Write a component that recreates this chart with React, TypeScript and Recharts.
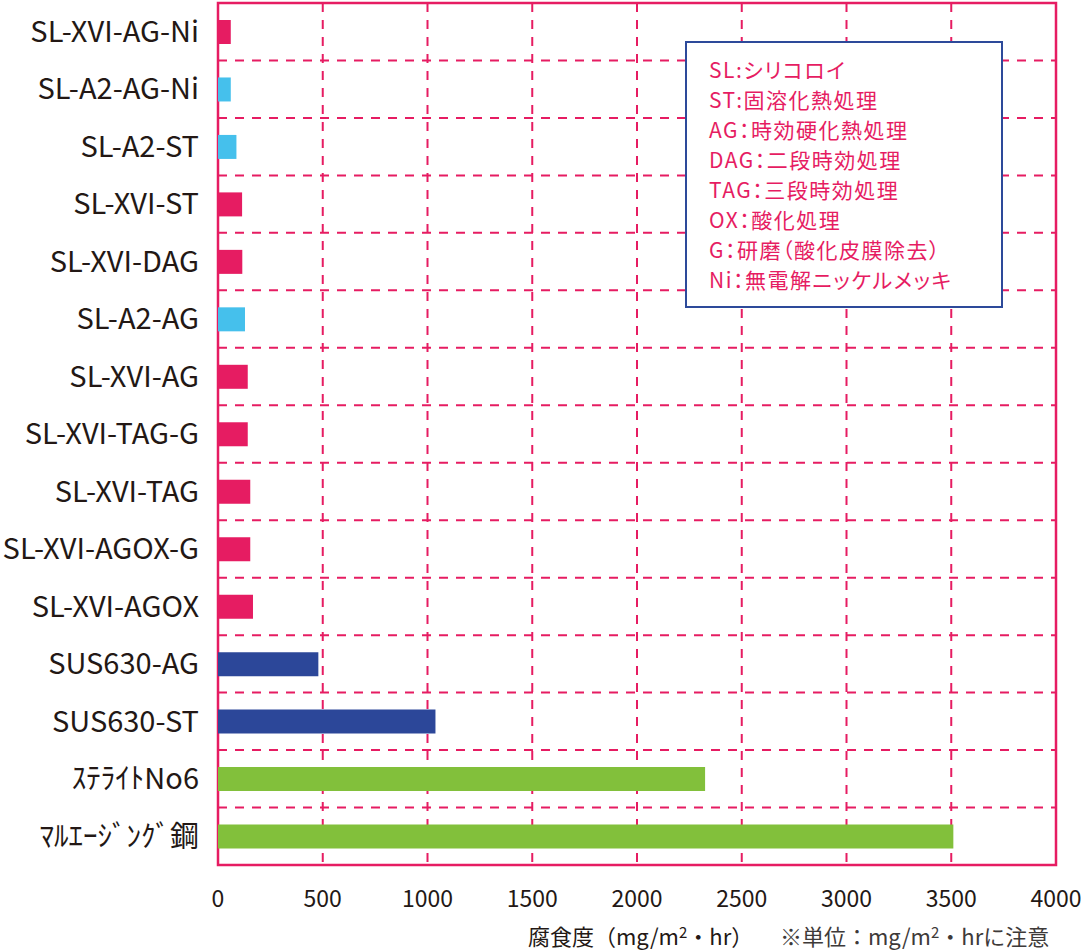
import { BarChart, Bar, XAxis, YAxis, CartesianGrid, ReferenceArea, Cell } from "recharts";

const categories = [
  "SL-XVI-AG-Ni",
  "SL-A2-AG-Ni",
  "SL-A2-ST",
  "SL-XVI-ST",
  "SL-XVI-DAG",
  "SL-A2-AG",
  "SL-XVI-AG",
  "SL-XVI-TAG-G",
  "SL-XVI-TAG",
  "SL-XVI-AGOX-G",
  "SL-XVI-AGOX",
  "SUS630-AG",
  "SUS630-ST",
  "ｽﾃﾗｲﾄNo6",
  "ﾏﾙｴｰｼﾞﾝｸﾞ鋼",
];
const corrosion = [61, 61, 88, 115, 116, 129, 142, 142, 154, 154, 167, 479, 1038, 2325, 3510];
const groups = ["xvi", "a2", "a2", "xvi", "xvi", "a2", "xvi", "xvi", "xvi", "xvi", "xvi", "sus", "sus", "ref", "ref"];
const xTicks = [0, 500, 1000, 1500, 2000, 2500, 3000, 3500, 4000];
const notes = [
  "SL:シリコロイ",
  "ST:固溶化熱処理",
  "AG：時効硬化熱処理",
  "DAG：二段時効処理",
  "TAG：三段時効処理",
  "OX：酸化処理",
  "G：研磨（酸化皮膜除去）",
  "Ni：無電解ニッケルメッキ",
];

const PINK = "#E61C62";
const INK = "#231815";
const FONT = "'Noto Sans CJK JP', 'Noto Sans', sans-serif";
const groupColor: Record<string, string> = {
  xvi: "#E61C62",
  a2: "#45C0EC",
  sus: "#2C4799",
  ref: "#82C03B",
};

const data = categories.map((name, i) => ({ name, value: corrosion[i], group: groups[i] }));

export default function App() {
  return (
    <div style={{ position: "relative", width: 1081, height: 951, fontFamily: FONT, background: "#fff" }}>
      <style>{"body{margin:0}"}</style>
      <BarChart
        layout="vertical"
        width={1081}
        height={951}
        data={data}
        margin={{ top: 3, right: 25, bottom: 0, left: 0 }}
      >
        <CartesianGrid
          stroke={PINK}
          strokeWidth={2}
          strokeDasharray="9 8"
          horizontalCoordinatesGenerator={({ offset }: any) =>
            categories.map((_, k) => offset.top + (k * offset.height) / categories.length)
          }
        />
        <XAxis
          type="number"
          domain={[0, 4000]}
          ticks={xTicks}
          axisLine={false}
          tickLine={false}
          height={86}
          tickMargin={20}
          tick={{ fill: INK, fontSize: 23, fontFamily: FONT }}
        />
        <YAxis
          type="category"
          dataKey="name"
          width={218}
          axisLine={false}
          tickLine={false}
          tickMargin={13}
          interval={0}
          tick={{ fill: INK, fontSize: 29, fontFamily: FONT }}
        />
        <Bar dataKey="value" barSize={24} isAnimationActive={false}>
          {data.map((d) => (
            <Cell key={d.name} fill={groupColor[d.group]} />
          ))}
        </Bar>
        <ReferenceArea x1={0} x2={4000} fill="none" stroke={PINK} strokeWidth={2.5} ifOverflow="visible" />
      </BarChart>

      <div
        style={{
          position: "absolute",
          left: 685,
          top: 41,
          width: 314,
          height: 263,
          border: "2px solid #2D4A9A",
          background: "#fff",
        }}
      >
        <div
          style={{
            position: "absolute",
            left: 22,
            top: 11,
            color: PINK,
            fontSize: 21,
            lineHeight: "30px",
            letterSpacing: 1.5,
            whiteSpace: "nowrap",
            fontFeatureSettings: '"palt"',
          }}
        >
          {notes.map((n) => (
            <div key={n}>{n}</div>
          ))}
        </div>
      </div>

      <div style={{ position: "absolute", left: 528, top: 916, color: INK, fontSize: 22, lineHeight: "32px", whiteSpace: "nowrap" }}>
        腐食度（mg/m<span style={{ fontSize: 15, verticalAlign: "7px" }}>2</span>・hr）
      </div>
      <div style={{ position: "absolute", left: 780, top: 916, color: "#3E3A39", fontSize: 22, lineHeight: "32px", whiteSpace: "nowrap" }}>
        ※単位：mg/m<span style={{ fontSize: 15, verticalAlign: "7px" }}>2</span>・hrに注意
      </div>
    </div>
  );
}
